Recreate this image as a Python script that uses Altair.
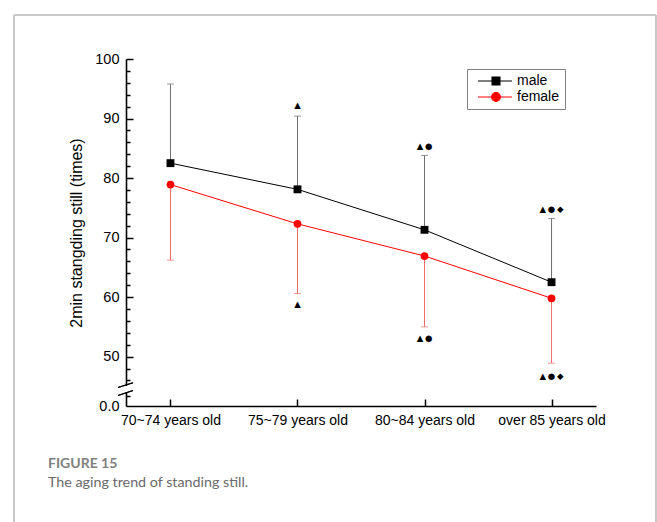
import altair as alt
import pandas as pd

# ---- data -------------------------------------------------------------
groups = ["70~74 years old", "75~79 years old", "80~84 years old", "over 85 years old"]
series = ["male", "female"]

male_mean = [82.5, 78.1, 71.3, 62.5]
male_upper = [95.8, 90.4, 83.8, 73.2]        # mean + SD (drawn upwards)
female_mean = [78.9, 72.3, 66.9, 59.8]
female_lower = [66.2, 60.6, 55.0, 48.9]      # mean - SD (drawn downwards)

# significance markers above the male bars and below the female bars
sig_text = ["", "▲", "▲\u2009●", "▲\u2009●\u2009◆"]
male_sig_y = [None, 92.2, 85.3, 74.8]
female_sig_y = [None, 58.8, 53.1, 46.8]

y_floor = 41.7                                # bottom of the broken axis, labelled 0.0
y_label_values = [y_floor, 50, 60, 70, 80, 90, 100]
y_tick_values = [43.4] + list(range(46, 101, 2))

colors = {"male": "#000000", "female": "#ff0000"}
err_colors = {"male": "#6e6e6e", "female": "#f26a6a"}

# ---- tables -----------------------------------------------------------
means = pd.DataFrame(
    [{"group": g, "series": "male", "value": v} for g, v in zip(groups, male_mean)]
    + [{"group": g, "series": "female", "value": v} for g, v in zip(groups, female_mean)]
)
male_err = pd.DataFrame({"group": groups, "lo": male_mean, "hi": male_upper, "end": male_upper})
female_err = pd.DataFrame({"group": groups, "lo": female_lower, "hi": female_mean, "end": female_lower})
sigs = pd.DataFrame(
    [{"group": g, "y": y, "t": t} for g, y, t in zip(groups, male_sig_y, sig_text) if t]
    + [{"group": g, "y": y, "t": t} for g, y, t in zip(groups, female_sig_y, sig_text) if t]
)
legend_df = pd.DataFrame({"series": series})

W, H = 470, 347
FONT = "Liberation Sans"

x_enc = dict(field="group", type="nominal", sort=groups,
             scale=alt.Scale(type="point", padding=0.35))
y_scale = alt.Scale(domain=[y_floor, 100], nice=False, zero=False)
color_scale = alt.Scale(domain=series, range=[colors[s] for s in series])


def error_layers(df, col):
    rule = alt.Chart(df).mark_rule(strokeWidth=1, color=col).encode(
        x=alt.X(**x_enc, axis=None),
        y=alt.Y("lo:Q", scale=y_scale, axis=None),
        y2="hi:Q",
    )
    cap = alt.Chart(df).mark_tick(thickness=1, size=7, color=col).encode(
        x=alt.X(**x_enc, axis=None),
        y=alt.Y("end:Q", axis=None),
    )
    return [rule, cap]


# ---- lines (carry the labelled axes) ----------------------------------
lines = alt.Chart(means).mark_line(strokeWidth=1).encode(
    x=alt.X(**x_enc, axis=alt.Axis(
        orient="bottom", title=None, labelAngle=0, ticks=False, grid=False,
        labelPadding=7, labelFont=FONT, labelFontSize=14, labelColor="black",
        domainColor="black", domainWidth=1.6)),
    y=alt.Y("value:Q", scale=y_scale, axis=alt.Axis(
        orient="left", values=y_label_values, grid=False, ticks=False,
        labelExpr="datum.value < 45 ? '0.0' : format(datum.value, 'd')",
        labelPadding=7, labelFont=FONT, labelFontSize=14.5, labelColor="black",
        labelBaseline="middle",
        domainColor="black", domainWidth=1.6,
        title="2min stangding still (times)", titleFont=FONT, titleFontSize=16,
        titleFontWeight="normal", titleColor="black",
        titleX=-50, titleY=H / 2, titleBaseline="middle", titleAngle=-90)),
    color=alt.Color("series:N", scale=color_scale, legend=None),
    detail="series:N",
)

# ---- markers (male squares carry the inward tick axes) ----------------
male_pts = alt.Chart(means).transform_filter("datum.series == 'male'").mark_square(
    size=62, opacity=1, color=colors["male"]).encode(
    x=alt.X(**x_enc, axis=alt.Axis(
        orient="top", offset=-H, labels=False, domain=False, grid=False, title=None,
        ticks=True, tickSize=7, tickWidth=1.5, tickColor="black")),
    y=alt.Y("value:Q", axis=alt.Axis(
        orient="right", offset=-W, labels=False, domain=False, grid=False, title=None,
        values=y_tick_values, ticks=True, tickWidth=1.5, tickColor="black",
        tickSize={"condition": {"test": "datum.value % 10 === 0", "value": 7}, "value": 4})),
)
female_pts = alt.Chart(means).transform_filter("datum.series == 'female'").mark_circle(
    size=60, opacity=1, color=colors["female"]).encode(
    x=alt.X(**x_enc, axis=None),
    y=alt.Y("value:Q", axis=None),
)

# ---- significance markers ---------------------------------------------
sig_marks = alt.Chart(sigs).mark_text(font="DejaVu Sans", fontSize=8.5, color="black",
                                      baseline="middle").encode(
    x=alt.X(**x_enc, axis=None),
    y=alt.Y("y:Q", axis=None),
    text="t:N",
)

# ---- legend: a line through a solid marker ----------------------------
# path units are 4 px; the line runs right of the nominal symbol slot
male_sym = "M-0.25,0H8.25M3.25,-1H5.25V1H3.25Z"
female_sym = "M-0.25,0H8.25M5.35,0A1.1,1.1 0 1,1 3.15,0A1.1,1.1 0 1,1 5.35,0Z"
leg = alt.Legend(
    title=None, orient="none", legendX=341, legendY=10,
    strokeColor="#7f7f7f", padding=5, symbolSize=64,
    symbolStrokeWidth=1.1, symbolFillColor="black", symbolStrokeColor="black",
    symbolOpacity=1, labelFont=FONT, labelFontSize=14, labelColor="black",
    labelOffset=31, rowPadding=2)
legend_layer = alt.Chart(legend_df).transform_filter("false").mark_point(
    filled=True, strokeWidth=1).encode(
    shape=alt.Shape("series:N", scale=alt.Scale(domain=series, range=[male_sym, female_sym]),
                    legend=leg),
    fill=alt.Fill("series:N", scale=alt.Scale(domain=series, range=[colors[s] for s in series]),
                  legend=leg),
    stroke=alt.Stroke("series:N", scale=alt.Scale(domain=series, range=[colors[s] for s in series]),
                      legend=leg),
)

# ---- axis break and figure frame --------------------------------------
brk_gap = alt.Chart(legend_df).mark_rule(color="white", strokeWidth=4).encode(
    x=alt.value(0), y=alt.value(327), y2=alt.value(333))
brk1 = alt.Chart(legend_df).mark_rule(color="black", strokeWidth=1.2).encode(
    x=alt.value(-8), x2=alt.value(7), y=alt.value(328.5), y2=alt.value(323.8))
brk2 = alt.Chart(legend_df).mark_rule(color="black", strokeWidth=1.2).encode(
    x=alt.value(-8), x2=alt.value(7), y=alt.value(336.5), y2=alt.value(331.5))

FRAME = "#c4c4c4"
frame_left = alt.Chart(legend_df).mark_rule(color=FRAME, strokeWidth=1.5).encode(
    x=alt.value(-112), y=alt.value(-44), y2=alt.value(470))
frame_top = alt.Chart(legend_df).mark_rule(color=FRAME, strokeWidth=1.5).encode(
    x=alt.value(-112), x2=alt.value(530), y=alt.value(-44))
frame_right = alt.Chart(legend_df).mark_rule(color=FRAME, strokeWidth=1.5).encode(
    x=alt.value(530), y=alt.value(-44), y2=alt.value(470))

chart = alt.layer(
    frame_left, frame_top, frame_right,
    *error_layers(male_err, err_colors["male"]),
    *error_layers(female_err, err_colors["female"]),
    lines, male_pts, female_pts, sig_marks, legend_layer,
    brk_gap, brk1, brk2,
).resolve_scale(
    x="shared", y="shared", shape="independent", fill="independent", stroke="independent"
).resolve_axis(
    x="independent", y="independent"
).resolve_legend(
    shape="independent", fill="independent", stroke="independent"
).properties(
    width=W, height=H,
    padding={"left": 126, "top": 59, "right": 61, "bottom": 116},
    autosize=alt.AutoSizeParams(type="none"),
    background="white",
    title=alt.Title(
        "FIGURE 15", subtitle="The aging trend of standing still.",
        orient="bottom", anchor="start", frame="group", dx=-78, dy=-43, offset=-30,
        font="Lato", fontSize=14, fontWeight="bold", color="#808080",
        subtitleFont="Lato", subtitleFontSize=14.3, subtitleColor="#6a6a6a",
        subtitlePadding=5),
).configure_view(stroke=None)

chart.save("out.html", embed_options={"renderer": "svg", "actions": False})
